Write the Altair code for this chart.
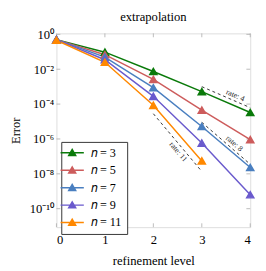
import math
import altair as alt
import pandas as pd

levels = [0, 1, 2, 3, 4]
series_names = ["𝑛 = 3", "𝑛 = 5", "𝑛 = 7", "𝑛 = 9", "𝑛 = 11"]
err_n3 = [5.0e-1, 9.5e-2, 7.4e-3, 5.2e-4, 3.3e-5]
err_n5 = [5.0e-1, 6.8e-2, 2.6e-3, 4.5e-5, 9.1e-7]
err_n7 = [5.0e-1, 5.0e-2, 8.7e-4, 5.2e-6, 2.3e-8]
err_n9 = [5.0e-1, 3.5e-2, 2.8e-4, 5.8e-7, 6.3e-10]
err_n11 = [4.6e-1, 2.5e-2, 8.5e-5, 5.5e-8]
colors = ["#0a7a0a", "#cd5c5c", "#4a7fc0", "#6a5acd", "#ff8800"]

rates = [4, 8, 11]
rate_x0 = [3, 3, 2]
rate_y0 = [1.0e-3, 9.0e-6, 2.8e-5]
rate_labels = ["rate: 4", "rate: 8", "rate: 11"]
rate_label_pos = [0.65, 0.6, 0.6]

x_ticks = [0, 1, 2, 3, 4]
y_ticks = [1e0, 1e-2, 1e-4, 1e-6, 1e-8, 1e-10]
y_tick_labels = ["10⁰", "10⁻²", "10⁻⁴", "10⁻⁶", "10⁻⁸", "10⁻¹⁰"]
chart_title = "extrapolation"

FONT = "Liberation Serif"
W, H = 200, 200

rows = []
for name, errs in zip(series_names, [err_n3, err_n5, err_n7, err_n9, err_n11]):
    for lv, e in zip(levels, errs):
        rows.append({"level": lv, "error": e, "series": name})
df = pd.DataFrame(rows)

rate_rows = []
lab_rows = []
for r, x0, y0, lab, f in zip(rates, rate_x0, rate_y0, rate_labels, rate_label_pos):
    rate_rows.append({"rate": lab, "level": x0, "error": y0})
    rate_rows.append({"rate": lab, "level": x0 + 1, "error": y0 * 2.0 ** (-r)})
    ang = math.degrees(math.atan(0.30103 * r * 18.0 / 50.0))
    lab_rows.append({"rate": lab, "level": x0 + f, "error": y0 * 2.0 ** (-r * f),
                     "angle": ang, "below": r == 11})
rate_df = pd.DataFrame(rate_rows)
lab_df = pd.DataFrame(lab_rows)

xs = alt.Scale(domain=[0, 4], nice=False, zero=False)
ys = alt.Scale(type="log", domain=[10 ** -11.06, 10 ** 0.056], nice=False)
cs = alt.Scale(domain=series_names, range=colors)

label_expr = ""
for v, l in zip(y_ticks, y_tick_labels):
    label_expr += f"abs(log(datum.value)/LN10 - ({round(math.log10(v))})) < 0.1 ? '{l}' : "
label_expr += "''"

leg = alt.Legend(
    title=None, orient="none", legendX=5, legendY=112,
    strokeColor="#333", fillColor="white", padding=5, cornerRadius=0,
    labelFont=FONT, labelFontSize=12.5, labelColor="black",
    symbolType="M-3,0H3M-0.9,0.7L0.9,0.7L0,-0.85Z", symbolSize=64,
    symbolStrokeWidth=1.5, labelOffset=13, rowPadding=4,
)

x_axis = alt.Axis(values=x_ticks, ticks=False, tickSize=0, domain=False, grid=False,
                  labelFont=FONT, labelFontSize=13, labelColor="black", labelPadding=7,
                  title="refinement level", titleFont=FONT, titleFontSize=13,
                  titleFontWeight="normal", titleColor="black", titleY=35,
                  titleBaseline="middle")
y_axis = alt.Axis(values=y_ticks, ticks=False, tickSize=0, domain=False, grid=False,
                  labelExpr=label_expr, labelFont=FONT, labelFontSize=13,
                  labelColor="black", labelPadding=3,
                  title="Error", titleFont=FONT, titleFontSize=13,
                  titleFontWeight="normal", titleColor="black", titleX=-42, titleY=100,
                  titleBaseline="middle", titleAngle=-90)

base = alt.Chart(df)
lines = base.mark_line(strokeWidth=1.5).encode(
    x=alt.X("level:Q", scale=xs, axis=x_axis),
    y=alt.Y("error:Q", scale=ys, axis=y_axis),
    stroke=alt.Stroke("series:N", scale=cs, sort=series_names, legend=leg),
    detail="series:N",
)
points = base.mark_point(filled=True, shape="triangle-up", size=55, strokeWidth=1.5, opacity=1).encode(
    x=alt.X("level:Q", scale=xs),
    y=alt.Y("error:Q", scale=ys),
    fill=alt.Fill("series:N", scale=cs, sort=series_names, legend=leg),
    stroke=alt.Stroke("series:N", scale=cs, sort=series_names, legend=leg),
)

rate_lines = alt.Chart(rate_df).mark_line(color="black", strokeWidth=0.8, strokeDash=[3, 3]).encode(
    x=alt.X("level:Q", scale=xs), y=alt.Y("error:Q", scale=ys), detail="rate:N")

lab_above = alt.Chart(lab_df).transform_filter("!datum.below").mark_text(
    font=FONT, fontSize=8, align="center", baseline="bottom", dy=-1, color="#222").encode(
    x=alt.X("level:Q", scale=xs), y=alt.Y("error:Q", scale=ys),
    text="rate:N", angle=alt.Angle("angle:Q", scale=None))
lab_below = alt.Chart(lab_df).transform_filter("datum.below").mark_text(
    font=FONT, fontSize=8, align="center", baseline="top", dy=2, color="#222").encode(
    x=alt.X("level:Q", scale=xs), y=alt.Y("error:Q", scale=ys),
    text="rate:N", angle=alt.Angle("angle:Q", scale=None))

xt_df = pd.DataFrame({"level": x_ticks})
yt_df = pd.DataFrame({"error": y_ticks})
tick_col = "#aaaaaa"
xt_bot = alt.Chart(xt_df).mark_rule(color=tick_col, strokeWidth=0.8).encode(
    x=alt.X("level:Q", scale=xs), y=alt.value(H), y2=alt.value(H - 4))
xt_top = alt.Chart(xt_df).mark_rule(color=tick_col, strokeWidth=0.8).encode(
    x=alt.X("level:Q", scale=xs), y=alt.value(0), y2=alt.value(4))
yt_l = alt.Chart(yt_df).mark_rule(color=tick_col, strokeWidth=0.8).encode(
    y=alt.Y("error:Q", scale=ys), x=alt.value(0), x2=alt.value(4))
yt_r = alt.Chart(yt_df).mark_rule(color=tick_col, strokeWidth=0.8).encode(
    y=alt.Y("error:Q", scale=ys), x=alt.value(W - 4), x2=alt.value(W))

title_df = pd.DataFrame({"t": [chart_title]})
title_mark = alt.Chart(title_df).mark_text(
    font=FONT, fontSize=13, color="black", align="center", baseline="middle").encode(
    text="t:N", x=alt.value(W / 2), y=alt.value(-17))

chart = alt.layer(
    xt_bot, xt_top, yt_l, yt_r, rate_lines, lab_above, lab_below, lines, points, title_mark
).properties(
    width=W, height=H,
    autosize=alt.AutoSizeParams(type="none"),
    padding={"left": 50, "top": 22, "right": 8, "bottom": 40},
).configure_view(stroke="#333", strokeWidth=0.9).configure(background="white")

chart.save("out.html", embed_options={"renderer": "svg", "actions": False})
